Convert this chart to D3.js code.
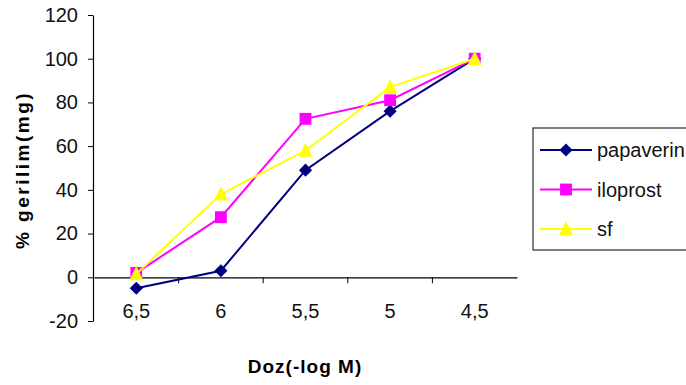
<!DOCTYPE html>
<html>
<head>
<meta charset="utf-8">
<script src="https://cdn.jsdelivr.net/npm/d3@7"></script>
<style>
  body { margin: 0; background: #fff; }
  text { font-family: Arial, "Liberation Sans", sans-serif; }
</style>
</head>
<body>
<svg id="chart" width="686" height="385"></svg>
<script>
// doses on the x axis (-log M)
const doses = ["6,5", "6", "5,5", "5", "4,5"];
const yTicks = [-20, 0, 20, 40, 60, 80, 100, 120];

const papaverin = [-5, 3, 49, 76, 100];
const iloprost = [2, 27.5, 72.5, 81, 100];
const sf = [1.5, 38, 58, 87, 100];

const seriesNames = ["papaverin", "iloprost", "sf"];
const seriesColors = ["#000080", "#ff00ff", "#ffff00"];

// excel style triangle, a bit wider than equilateral
const excelTriangle = {
  draw(context, size) {
    let w = Math.sqrt(size);
    context.moveTo(0, -w * 0.55);
    context.lineTo(w / 2, w * 0.45);
    context.lineTo(-w / 2, w * 0.45);
    context.closePath();
  }
};
const seriesSymbols = [d3.symbolDiamond2, d3.symbolSquare, excelTriangle];
const seriesSizes = [110, 140, 196];

const svg = d3.select("#chart");

let x = d3.scaleBand()
  .domain(doses)
  .range([94, 517]);

let y = d3.scaleLinear()
  .domain([-20, 120])
  .range([321, 15]);

// y axis
let yAxis = svg.append("g")
  .attr("transform", "translate(93,0)")
  .call(d3.axisLeft(y).tickValues(yTicks).tickFormat(d => String(d))
    .tickSize(5).tickPadding(10).tickSizeOuter(0));
yAxis.select(".domain").attr("stroke", "#000").attr("stroke-width", 1.2);
yAxis.selectAll(".tick line").attr("stroke", "#000");
yAxis.selectAll("text")
  .attr("font-size", "20px")
  .attr("fill", "#111")
  .style("font-family", "Arial, 'Liberation Sans', sans-serif");

// x axis sits on the zero line, labels hang low like excel
let xAxis = svg.append("g")
  .attr("transform", `translate(0,${y(0)})`)
  .call(d3.axisBottom(x).tickSize(0).tickPadding(27).tickSizeOuter(0));
xAxis.select(".domain").attr("stroke", "#000").attr("stroke-width", 1.2);
xAxis.selectAll("text")
  .attr("font-size", "20px")
  .attr("fill", "#111")
  .style("font-family", "Arial, 'Liberation Sans', sans-serif");

// ticks between the categories
svg.append("g").selectAll("line")
  .data(doses.slice(0, -1))
  .enter().append("line")
  .attr("x1", d => x(d) + x.bandwidth())
  .attr("x2", d => x(d) + x.bandwidth())
  .attr("y1", y(0))
  .attr("y2", y(0) + 6)
  .attr("stroke", "#000");

// axis titles
svg.append("text")
  .attr("x", 305)
  .attr("y", 373)
  .attr("text-anchor", "middle")
  .attr("font-size", "19px")
  .attr("font-weight", "bold")
  .attr("letter-spacing", "1px")
  .text("Doz(-log M)");

svg.append("text")
  .attr("transform", "translate(29,170) rotate(-90)")
  .attr("text-anchor", "middle")
  .attr("font-size", "19px")
  .attr("font-weight", "bold")
  .attr("letter-spacing", "2.5px")
  .text("% gerilim(mg)");

// series
let allSeries = [papaverin, iloprost, sf];
let line = d3.line()
  .x((d, i) => x(doses[i]) + x.bandwidth() / 2)
  .y(d => y(d));

allSeries.forEach((values, s) => {
  let g = svg.append("g");
  g.append("path")
    .datum(values)
    .attr("d", line)
    .attr("fill", "none")
    .attr("stroke", seriesColors[s])
    .attr("stroke-width", 2);
  g.selectAll("path.marker")
    .data(values)
    .enter().append("path")
    .attr("class", "marker")
    .attr("d", d3.symbol().type(seriesSymbols[s]).size(seriesSizes[s]))
    .attr("transform", (d, i) => `translate(${x(doses[i]) + x.bandwidth() / 2},${y(d)})`)
    .attr("fill", seriesColors[s]);
});

// legend
let legend = svg.append("g");
legend.append("rect")
  .attr("x", 533)
  .attr("y", 128)
  .attr("width", 200)
  .attr("height", 122)
  .attr("fill", "#fff")
  .attr("stroke", "#000");

let items = legend.selectAll(".item")
  .data(seriesNames)
  .enter().append("g")
  .attr("class", "item")
  .attr("transform", (d, i) => `translate(0,${150 + i * 39.5})`);
items.append("line")
  .attr("x1", 540).attr("x2", 592)
  .attr("stroke", (d, i) => seriesColors[i])
  .attr("stroke-width", 2);
items.append("path")
  .attr("d", (d, i) => d3.symbol().type(seriesSymbols[i]).size(seriesSizes[i])())
  .attr("transform", "translate(566,0)")
  .attr("fill", (d, i) => seriesColors[i]);
items.append("text")
  .attr("x", 597)
  .attr("y", 7)
  .attr("font-size", "20px")
  .attr("fill", "#111")
  .text(d => d);
</script>
</body>
</html>
